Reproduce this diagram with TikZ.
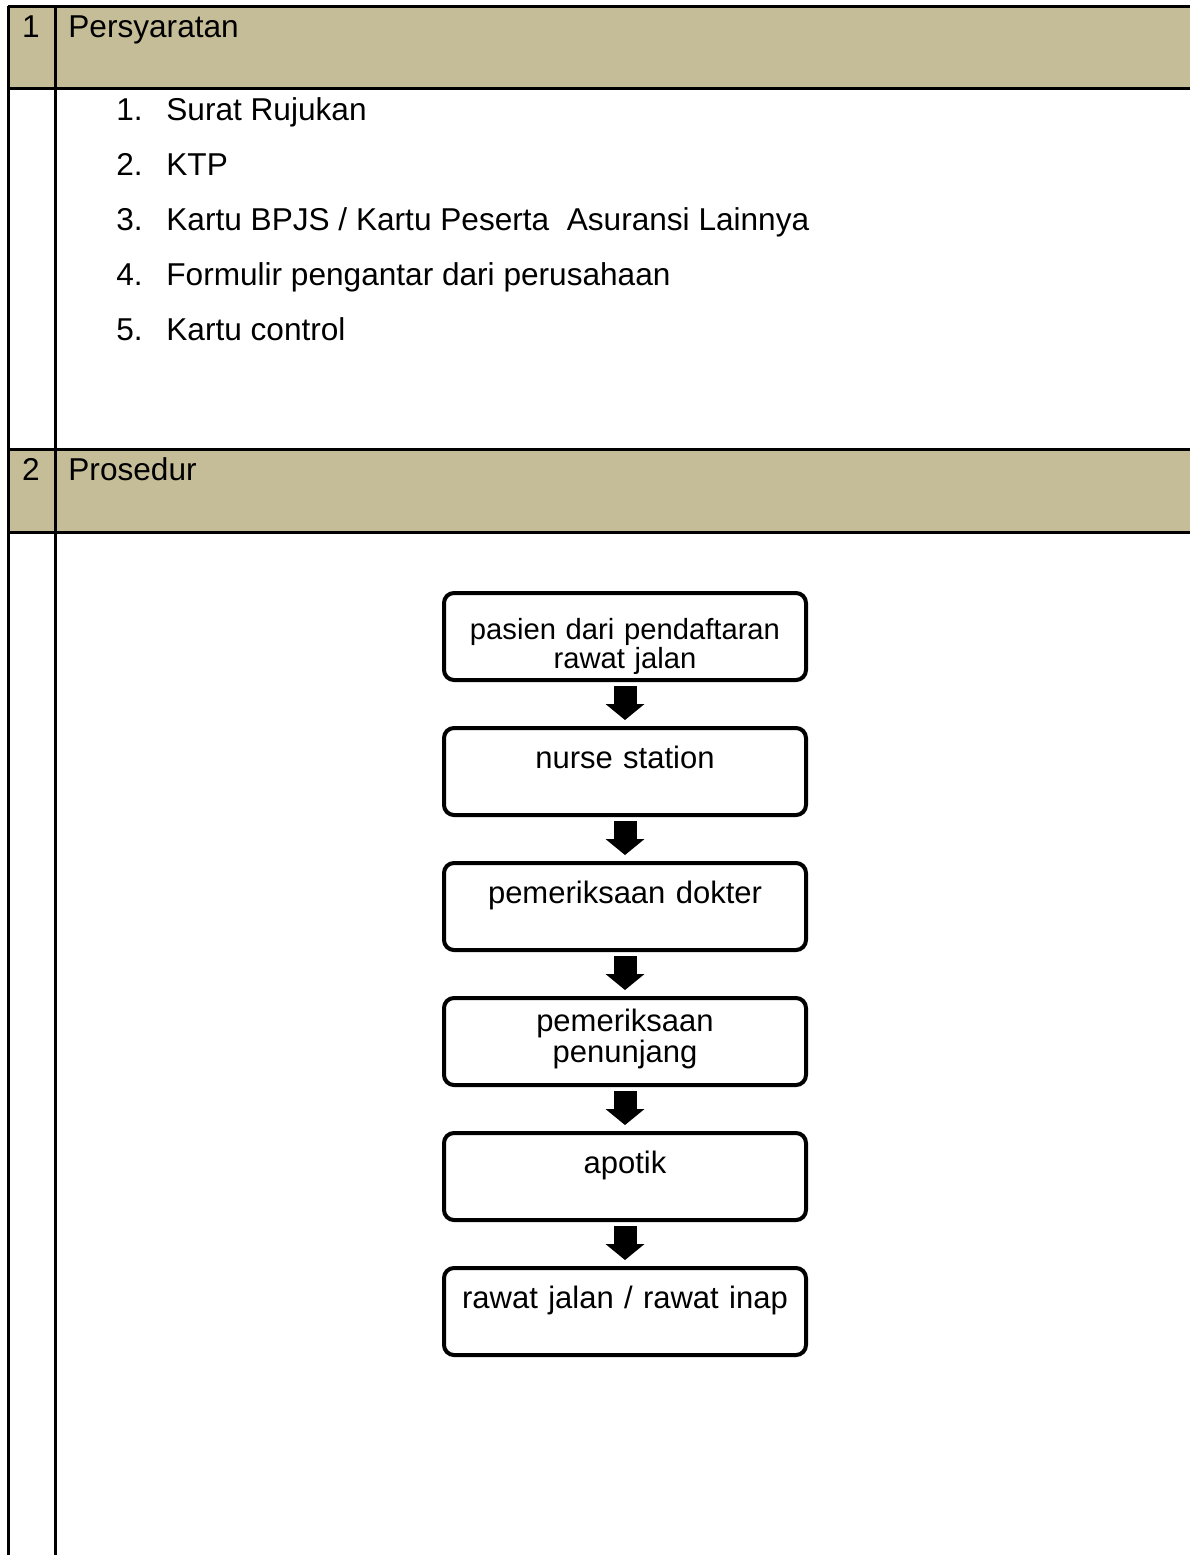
\documentclass[tikz,border=0pt]{standalone}
\usepackage{fontspec}
\setmainfont{Liberation Sans}
\usepackage{tikz}
\usetikzlibrary{arrows.meta, positioning}
\definecolor{headtan}{HTML}{C4BD97}

\tikzset{
  rule/.style={line width=1.5pt},
  cell/.style={inner sep=0pt, anchor=base west, font=\fontsize{15.8}{19}\selectfont},
  stepbox/.style={draw, line width=2pt, rounded corners=5pt, text width=176pt,
    align=center, inner xsep=2.5pt, inner ysep=0pt, text height=20pt,
    text depth=23.5pt, font=\fontsize{15.5}{15.5}\selectfont},
  steparrow/.style={line width=11.5pt,
    -{Triangle[length=8pt, width=19.5pt, line width=0pt]},
    shorten <=2pt, shorten >=3pt}
}

\begin{document}
\begin{tikzpicture}[x=0.5pt, y=-0.5pt]
\useasboundingbox (0,0) rectangle (1190,1555);

% table
\fill[headtan] (8,6) rectangle (1190,88);
\fill[headtan] (8,449) rectangle (1190,532);
\draw[rule] (8,6) -- (1190,6);
\draw[rule] (8,88) -- (1190,88);
\draw[rule] (8,449) -- (1190,449);
\draw[rule] (8,532) -- (1190,532);
\draw[rule] (8,6) -- (8,1560);
\draw[rule] (55,6) -- (55,1560);

\node[cell, anchor=base] (no1) at (31,37) {1};
\node[cell] (syarat) at (68,37) {Persyaratan};
\node[cell, anchor=base] (no2) at (31,480) {2};
\node[cell] (prosedur) at (68,480) {Prosedur};

\node[cell] (n1) at (116,120) {1.};
\node[cell] (s1) at (166,120) {Surat Rujukan};
\node[cell] (n2) at (116,175) {2.};
\node[cell] (s2) at (166,175) {KTP};
\node[cell] (n3) at (116,230) {3.};
\node[cell] (s3) at (166,230) {Kartu BPJS / Kartu Peserta\ \ Asuransi Lainnya};
\node[cell] (n4) at (116,285) {4.};
\node[cell] (s4) at (166,285) {Formulir pengantar dari perusahaan};
\node[cell] (n5) at (116,340) {5.};
\node[cell] (s5) at (166,340) {Kartu control};

% alur prosedur
\node[stepbox, anchor=north, text height=23pt, text depth=20.5pt,
      font=\fontsize{14.6}{14.5}\selectfont] (b1) at (625,591)
  {pasien dari pendaftaran\\rawat jalan};
\node[stepbox, below=22pt of b1] (b2) {nurse station};
\node[stepbox, below=22pt of b2] (b3) {pemeriksaan dokter};
\node[stepbox, below=22pt of b3, text height=16.5pt, text depth=27pt] (b4)
  {pemeriksaan\\penunjang};
\node[stepbox, below=22pt of b4] (b5) {apotik};
\node[stepbox, below=22pt of b5] (b6) {rawat jalan / rawat inap};

\draw[steparrow] (b1.south) -- (b2.north);
\draw[steparrow] (b2.south) -- (b3.north);
\draw[steparrow] (b3.south) -- (b4.north);
\draw[steparrow] (b4.south) -- (b5.north);
\draw[steparrow] (b5.south) -- (b6.north);
\end{tikzpicture}
\end{document}
